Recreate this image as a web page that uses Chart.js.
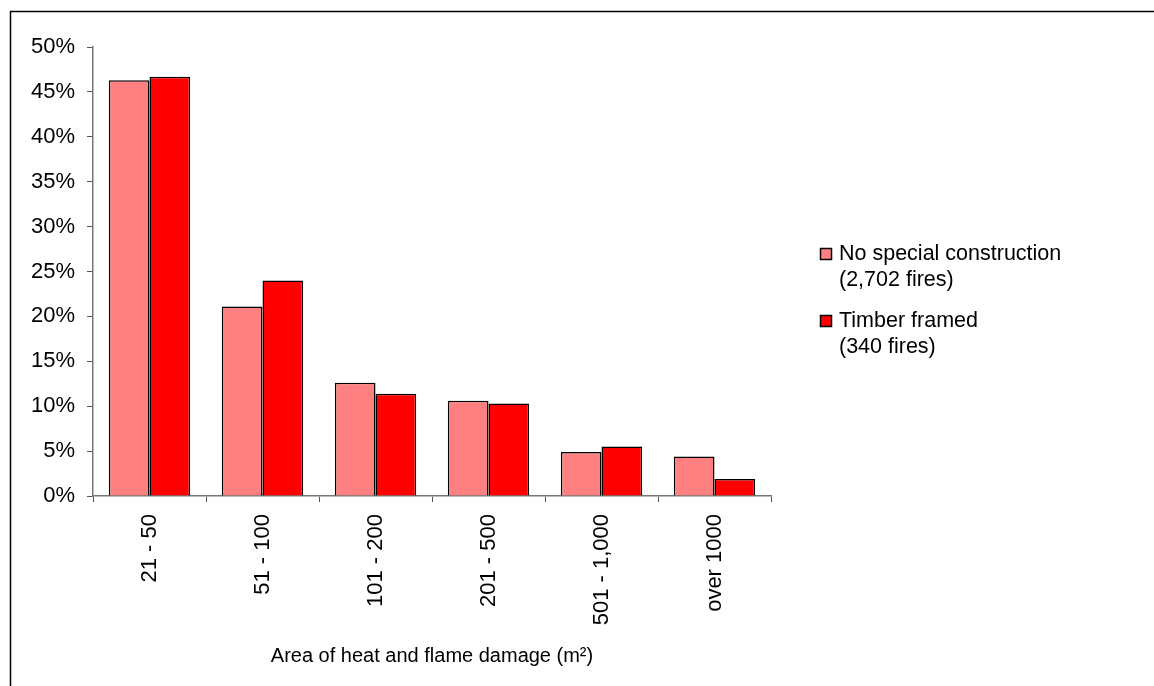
<!DOCTYPE html>
<html>
<head>
<meta charset="utf-8">
<script src="https://cdn.jsdelivr.net/npm/chart.js@4/dist/chart.umd.min.js"></script>
<style>
  html, body { margin: 0; padding: 0; background: #fff; }
  #wrap { width: 1154px; height: 686px; position: relative; }
</style>
</head>
<body>
<div id="wrap"><canvas id="chart" width="1154" height="686"></canvas></div>
<script>
// Data
const categories = ["21 - 50", "51 - 100", "101 - 200", "201 - 500", "501 - 1,000", "over 1000"];
const noSpecialValues = [46.3, 21.1, 12.6, 10.6, 4.9, 4.4];
const timberValues = [46.7, 24.0, 11.4, 10.3, 5.5, 1.9];
const seriesLines = [
    ["No special construction", "(2,702 fires)"],
    ["Timber framed", "(340 fires)"],
];
const seriesColors = ["#FF8080", "#FF0000"];
const xTitle = "Area of heat and flame damage (m\u00B2)";

const FONT = "'Liberation Sans', Arial, sans-serif";

// outer frame, only top and left edges are visible in the picture
const framePlugin = {
    id: "frame",
    beforeDraw(chart) {
        const ctx = chart.ctx;
        ctx.save();
        ctx.fillStyle = "#fff";
        ctx.fillRect(0, 0, chart.width, chart.height);
        ctx.strokeStyle = "#000";
        ctx.lineWidth = 1.5;
        ctx.beginPath();
        ctx.moveTo(10.5, chart.height);
        ctx.lineTo(10.5, 11.5);
        ctx.lineTo(chart.width, 11.5);
        ctx.stroke();
        ctx.restore();
    },
};

// two-line legend on the right
const sideLegend = {
    id: "sideLegend",
    afterDraw(chart) {
        const ctx = chart.ctx;
        const x = 820, startY = 248;
        ctx.save();
        ctx.font = "21.5px " + FONT;
        ctx.textBaseline = "middle";
        ctx.textAlign = "left";
        chart.data.datasets.forEach((ds, i) => {
            const y = startY + i * 67;
            ctx.fillStyle = ds.backgroundColor;
            ctx.fillRect(x, y, 12, 12);
            ctx.strokeStyle = "#000";
            ctx.lineWidth = 1.5;
            ctx.strokeRect(x + 0.5, y + 0.5, 11, 11);
            ctx.fillStyle = "#000";
            ds.lines.forEach((line, j) => {
                ctx.fillText(line, x + 19, y + 6 + j * 26);
            });
        });
        ctx.restore();
    },
};

new Chart(document.getElementById("chart"), {
    type: "bar",
    data: {
        labels: categories,
        datasets: [
            {
                label: seriesLines[0].join(" "),
                lines: seriesLines[0],
                data: noSpecialValues,
                backgroundColor: seriesColors[0],
                borderColor: "#000",
                borderWidth: 1.5,
                categoryPercentage: 0.72,
                barPercentage: 1.0,
            },
            {
                label: seriesLines[1].join(" "),
                lines: seriesLines[1],
                data: timberValues,
                backgroundColor: seriesColors[1],
                borderColor: "#000",
                borderWidth: 1.5,
                categoryPercentage: 0.72,
                barPercentage: 1.0,
            },
        ],
    },
    options: {
        responsive: false,
        animation: false,
        layout: {
            padding: { top: 47, right: 383, left: 0, bottom: 0 },
        },
        scales: {
            x: {
                offset: true,
                grid: {
                    offset: true,
                    drawOnChartArea: false,
                    tickLength: 6,
                    color: "#555",
                },
                border: { display: true, color: "#777", width: 1.5 },
                ticks: {
                    color: "#000",
                    font: { family: FONT, size: 22 },
                    maxRotation: 90,
                    minRotation: 90,
                    padding: 12,
                    autoSkip: false,
                },
                title: {
                    display: true,
                    text: xTitle,
                    color: "#000",
                    font: { family: FONT, size: 20 },
                    padding: { top: 0, bottom: 18 },
                },
                afterFit(scale) {
                    scale.height = 190;
                },
            },
            y: {
                min: 0,
                max: 50,
                ticks: {
                    stepSize: 5,
                    color: "#000",
                    font: { family: FONT, size: 22 },
                    padding: 12,
                    callback: (v) => v + "%",
                },
                grid: {
                    drawOnChartArea: false,
                    tickLength: 6,
                    color: "#555",
                },
                border: { display: true, color: "#777", width: 1.5 },
                afterFit(scale) {
                    scale.width = 93;
                },
            },
        },
        plugins: {
            legend: { display: false },
            tooltip: { enabled: false },
        },
    },
    plugins: [framePlugin, sideLegend],
});
</script>
</body>
</html>
